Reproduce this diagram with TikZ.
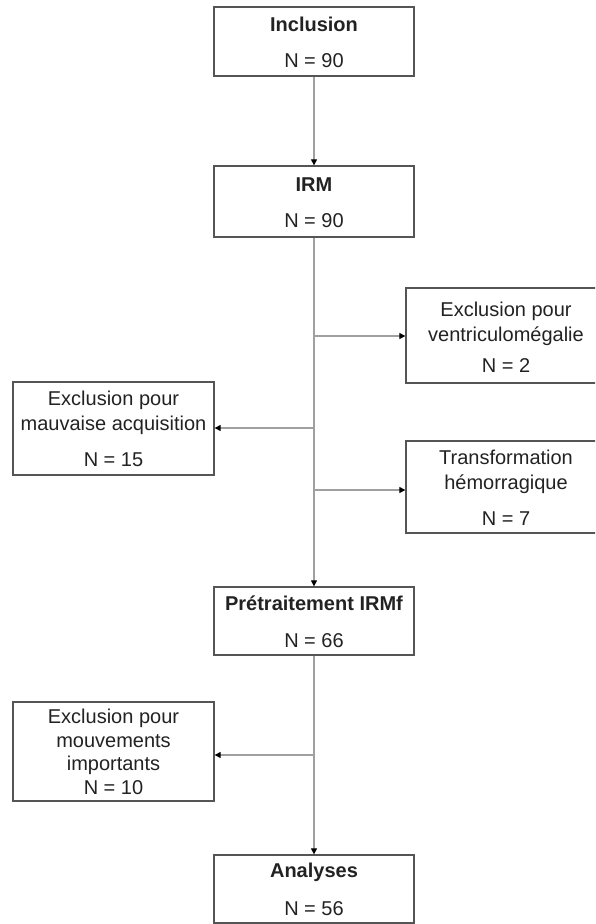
\documentclass[tikz,border=0pt]{standalone}
\usepackage{fontspec}
\setmainfont{Liberation Sans}
\usetikzlibrary{arrows.meta}
\definecolor{boxline}{HTML}{555555}
\definecolor{conn}{HTML}{A0A0A0}
\definecolor{txt}{HTML}{222222}
\newcommand\tstr{\rule{0pt}{19pt}}
\newcommand\bstr{\rule[-4pt]{0pt}{4pt}}
\begin{document}
\begin{tikzpicture}[x=1pt,y=-1pt,
  box/.style={draw=boxline, line width=1.3pt, rectangle, inner sep=0pt, align=center, text=txt,
    font=\fontsize{20}{25}\selectfont, minimum width=200pt},
  arr/.style={draw=conn, line width=1.1pt, -{Triangle[length=6pt,width=6pt,color=black]}}]
\useasboundingbox (0,0) rectangle (595,924);
\clip (0,0) rectangle (595,924);
\node[box, minimum height=69pt] (incl) at (314,41.5) {\tstr\textbf{Inclusion}\\[11pt] N = 90\bstr};
\node[box, minimum height=71pt] (irm) at (314,201.5) {\tstr\textbf{IRM}\\[11pt] N = 90\bstr};
\node[box, minimum height=95pt] (vent) at (506,335.5) {\rule{0pt}{22pt}Exclusion pour\\ ventriculomégalie\\[6pt] N = 2\bstr};
\node[box, minimum width=201pt, minimum height=93pt] (mauv) at (113.5,428.5) {\tstr Exclusion pour\\ mauvaise acquisition\\[11pt] N = 15\bstr};
\node[box, minimum height=92pt] (trans) at (506,487) {\tstr Transformation\\ hémorragique\\[11pt] N = 7\bstr};
\node[box, minimum height=68pt] (pre) at (314,621) {\tstr\textbf{Prétraitement IRMf}\\[12pt] N = 66\bstr};
\node[box, minimum width=201pt, minimum height=99pt, font=\fontsize{20}{23.5}\selectfont] (mouv) at (113.5,751.5) {\tstr Exclusion pour\\ mouvements\\ importants\\ N = 10\bstr};
\node[box, minimum height=68pt] (ana) at (314,889) {\tstr\textbf{Analyses}\\[13pt] N = 56\bstr};
\coordinate (b1) at (314,336);
\coordinate (b2) at (314,428);
\coordinate (b3) at (314,490);
\coordinate (b4) at (314,755);
\draw[arr] (incl) -- (irm);
\draw[arr] (irm) -- (pre);
\draw[arr] (b1) -- (b1 -| vent.west);
\draw[arr] (b2) -- (b2 -| mauv.east);
\draw[arr] (b3) -- (b3 -| trans.west);
\draw[arr] (pre) -- (ana);
\draw[arr] (b4) -- (b4 -| mouv.east);
\end{tikzpicture}
\end{document}
